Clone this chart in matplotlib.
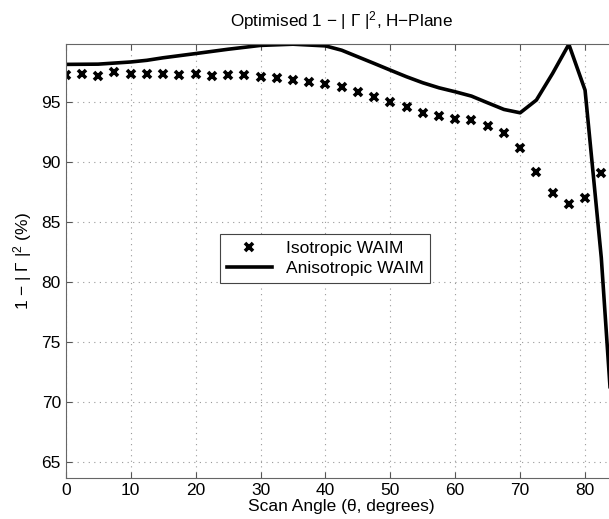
import numpy as np
import matplotlib.pyplot as plt

plt.rcParams['font.family'] = ['Liberation Sans', 'DejaVu Sans']
plt.rcParams['mathtext.fontset'] = 'custom'
plt.rcParams['mathtext.rm'] = 'Liberation Sans'
plt.rcParams['mathtext.it'] = 'Liberation Sans:italic'

# isotropic WAIM, every 2.5 degrees
iso_angle = [0, 2.5, 5, 7.5, 10, 12.5, 15, 17.5, 20, 22.5, 25, 27.5, 30, 32.5, 35,
             37.5, 40, 42.5, 45, 47.5, 50, 52.5, 55, 57.5, 60, 62.5, 65, 67.5, 70,
             72.5, 75, 77.5, 80, 82.5]
iso_val = [97.25, 97.3, 97.13, 97.44, 97.27, 97.27, 97.3, 97.22, 97.3, 97.1, 97.25,
           97.19, 97.05, 96.97, 96.83, 96.65, 96.46, 96.18, 95.82, 95.35, 94.98,
           94.52, 94.07, 93.8, 93.54, 93.46, 92.96, 92.4, 91.15, 89.15, 87.4,
           86.52, 86.98, 89.07]

# anisotropic WAIM
ani_angle = [0, 5, 10, 12.5, 15, 20, 25, 30, 35, 40, 42.5, 45, 47.5, 50, 52.5, 55,
             57.5, 60, 62.5, 65, 67.5, 70, 72.5, 75, 77.5, 80, 82.5, 85]
ani_val = [98.1, 98.12, 98.3, 98.44, 98.65, 99.0, 99.36, 99.68, 99.78, 99.64, 99.28,
           98.73, 98.18, 97.62, 97.07, 96.57, 96.15, 95.82, 95.46, 94.9, 94.35, 94.07,
           95.13, 97.35, 99.77, 95.95, 82.0, 62.0]

fig = plt.figure(figsize=(6.09, 5.19), dpi=100)
ax = fig.add_axes([0.108, 0.0796, 0.906, 0.8357])

ax.plot(iso_angle, iso_val, 'x', color='black', ms=6, mew=2.6, label='Isotropic WAIM')
ax.plot(ani_angle, ani_val, '-', color='black', lw=2.6, label='Anisotropic WAIM')

ax.set_xlim(0, 85)
ax.set_ylim(63.7, 99.8)
ax.set_xticks(np.arange(0, 81, 10))
ax.set_yticks(np.arange(65, 96, 5))
ax.tick_params(direction='in', top=True, right=True, labelsize=12.5, colors='#555555',
               labelcolor='black', length=4)
ax.grid(True, linestyle=(0, (1, 4)), color='#999999', lw=0.8)
for s in ax.spines.values():
    s.set_color('#666666')

ax.set_title('Optimised 1 − | Γ |$^2$, H−Plane', fontsize=12.3, pad=13)
ax.set_xlabel('Scan Angle (θ, degrees)', fontsize=12.5, labelpad=1)
ax.set_ylabel('1 − | Γ |$^2$ (%)', fontsize=12.5, labelpad=5)

leg = ax.legend(loc='center', bbox_to_anchor=(0.47, 0.505), fontsize=12.5,
                fancybox=False, framealpha=1, edgecolor='#444444',
                handlelength=2.6, borderpad=0.4, labelspacing=0.3)
leg.get_frame().set_linewidth(0.8)

fig.savefig('out.png', dpi=100)
